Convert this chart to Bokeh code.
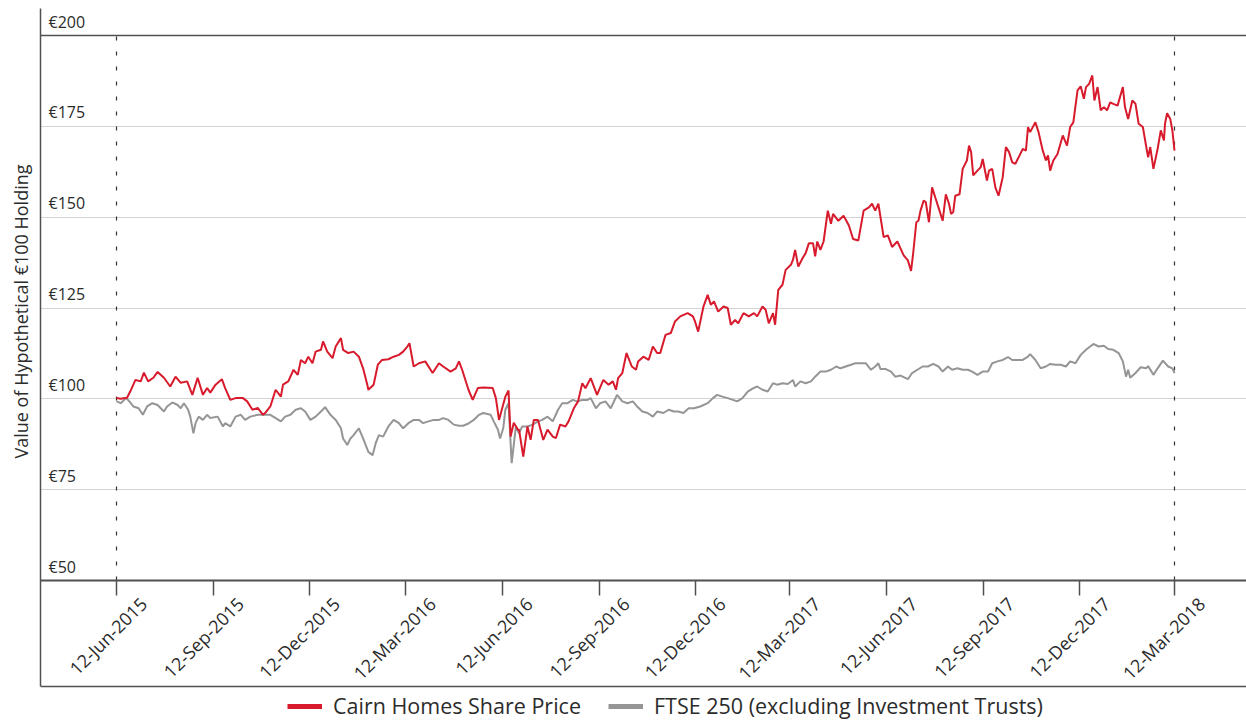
import math
from datetime import datetime, timedelta
import pandas as pd
from bokeh.plotting import figure
from bokeh.models import (Range1d, DatetimeAxis, LinearAxis, FixedTicker, DatetimeTickFormatter,
                          Span, LabelSet, ColumnDataSource, Legend, LegendItem, Grid, Title)
from bokeh.core.properties import value
from bokeh.embed import file_html
from bokeh.resources import INLINE

# ---------------- data ----------------
BASE_DATE = "2015-06-12"
series_names = ["Cairn Homes Share Price", "FTSE 250 (excluding Investment Trusts)"]

cairn_day = [0, 4, 10, 13, 18, 23, 26, 30, 35, 39,
             45, 51, 56, 61, 67, 72, 77, 82, 86, 89,
             94, 100, 103, 108, 113, 120, 124, 129, 134, 139,
             141, 146, 151, 156, 158, 163, 168, 172, 175, 179,
             182, 186, 189, 194, 196, 200, 205, 208, 213, 215,
             220, 225, 230, 234, 238, 239, 244, 248, 252, 258,
             263, 268, 272, 276, 278, 282, 287, 293, 300, 306,
             310, 317, 322, 325, 328, 334, 338, 343, 348, 357,
             360, 363, 366, 369, 372, 374, 377, 381, 382, 386,
             390, 393, 396, 400, 405, 409, 414, 417, 421, 426,
             429, 434, 438, 442, 445, 450, 456, 462, 467, 471,
             474, 476, 480, 484, 489, 493, 495, 500, 505, 509,
             513, 516, 521, 526, 530, 535, 542, 547, 549, 552,
             557, 561, 564, 567, 571, 576, 580, 583, 587, 590,
             595, 600, 605, 608, 613, 616, 619, 623, 625, 628,
             632, 635, 640, 642, 644, 647, 651, 654, 657, 661,
             663, 665, 668, 671, 675, 678, 680, 685, 690, 695,
             699, 704, 709, 714, 717, 720, 723, 728, 732, 736,
             741, 744, 747, 751, 754, 756, 759, 761, 763, 766,
             768, 771, 774, 777, 780, 784, 787, 790, 792, 794,
             796, 800, 803, 807, 809, 811, 813, 817, 820, 822,
             826, 828, 831, 834, 837, 841, 844, 847, 850, 853,
             857, 860, 863, 865, 867, 872, 875, 879, 882, 884,
             886, 889, 893, 898, 902, 905, 908, 912, 915, 918,
             920, 923, 926, 928, 931, 934, 937, 940, 943, 946,
             950, 955, 957, 960, 964, 967, 970, 974, 977, 979,
             981, 984, 988, 991, 994, 995, 997, 1000, 1002, 1004]
cairn_val = [100.2, 100.0, 100.3, 102, 105.2, 104.8, 107.2, 104.8, 105.8, 107.4,
             105.8, 103.4, 106.1, 104.4, 104.8, 101.1, 105.8, 101.1, 103, 101.7,
             103.9, 105.4, 103, 99.7, 100.2, 100.2, 99.3, 97, 97.5, 95.6,
             96.1, 97.9, 102.5, 100.6, 103.9, 104.8, 108, 106.6, 110.7, 109.8,
             111.6, 109.8, 113, 113.5, 115.8, 113, 111.2, 114.4, 116.7, 113.5,
             112.6, 113, 111.6, 108.4, 103.9, 102.5, 103.9, 109.4, 110.7, 110.9,
             111.6, 112.1, 113, 114.4, 115.3, 108.9, 109.8, 110.3, 107.1, 109.8,
             108.9, 107.5, 108.4, 110.3, 108, 102.5, 99.7, 103, 103.1, 103,
             100.2, 94.2, 97.4, 100.6, 102.3, 89.6, 93.4, 91.5, 91.5, 84.1,
             92.4, 88.7, 94.2, 94.2, 88.7, 91.5, 89.6, 89.2, 92.9, 92.4,
             93.8, 97.4, 99.3, 104.3, 102.9, 105.7, 101.1, 105.2, 103.9, 104.8,
             102.5, 105.7, 107.1, 112.6, 108.9, 108, 110.3, 111.6, 110.7, 114.4,
             112.6, 112.6, 117.6, 118.1, 121.3, 122.7, 123.6, 122.7, 121.3, 118.5,
             125.4, 128.6, 125.9, 126.8, 124, 125.4, 125, 120.4, 121.7, 120.8,
             123.6, 122.7, 123.6, 122.7, 125.4, 124.5, 120.8, 123.6, 120.4, 130,
             131.4, 135.5, 136.9, 138.3, 141, 136.4, 138.7, 140.1, 142.8, 142.8,
             139.2, 143.3, 141, 143.3, 151.8, 148.2, 150.9, 149, 150.4, 147.7,
             144, 143.6, 151.8, 152.7, 153.7, 151.8, 153.7, 144.5, 145, 141.8,
             143.3, 141.4, 139.5, 138.1, 135.2, 140, 148.6, 149, 151.8, 154.6,
             154.1, 148.6, 158.2, 155.4, 152.7, 149, 156.3, 153.7, 150.9, 151.4,
             155.9, 156.3, 163.3, 165.6, 169.7, 167.9, 161.5, 162.8, 163.7, 166,
             160.1, 162.8, 163.3, 158.2, 155.9, 161, 169.3, 167.9, 165.1, 164.7,
             167, 168.8, 168.3, 174.8, 173.4, 176.1, 173.4, 168.3, 165.6, 167,
             162.8, 165.6, 167.4, 172.5, 169.7, 174.8, 176.1, 184.9, 186, 182.6,
             185.8, 186.7, 189, 182.1, 185.8, 179.4, 180.3, 179.4, 181.6, 181.2,
             180.7, 185.8, 180.3, 177, 182.1, 181.2, 175.7, 174.8, 169.7, 166.5,
             169.3, 163.3, 168.8, 173.9, 171.1, 175.7, 178.6, 177, 173.9, 168.3]

ftse_day = [0, 4, 9, 11, 16, 21, 25, 29, 34, 39,
            45, 48, 53, 58, 61, 64, 68, 70, 73, 75,
            78, 82, 86, 89, 96, 101, 103, 108, 113, 118,
            122, 127, 134, 140, 146, 151, 156, 160, 165, 170,
            175, 179, 184, 189, 194, 198, 203, 208, 213, 215,
            219, 222, 225, 230, 234, 239, 243, 246, 249, 253,
            258, 263, 268, 272, 277, 282, 287, 291, 296, 301,
            306, 310, 315, 320, 325, 329, 334, 339, 344, 348,
            355, 358, 362, 364, 367, 369, 372, 375, 379, 382,
            385, 390, 395, 400, 404, 409, 414, 419, 423, 428,
            433, 437, 442, 447, 450, 455, 459, 464, 469, 475,
            480, 485, 490, 494, 499, 504, 509, 513, 519, 524,
            529, 533, 538, 543, 548, 554, 561, 566, 570, 575,
            580, 585, 589, 594, 599, 604, 608, 613, 618, 623,
            627, 632, 637, 642, 644, 649, 654, 659, 663, 668,
            673, 678, 683, 687, 692, 697, 701, 706, 711, 716,
            720, 723, 725, 730, 735, 739, 744, 751, 755, 760,
            765, 770, 775, 780, 784, 789, 793, 798, 803, 808,
            812, 817, 822, 827, 831, 836, 841, 846, 850, 855,
            860, 865, 867, 872, 877, 882, 886, 891, 896, 901,
            905, 910, 915, 920, 924, 927, 932, 937, 941, 946,
            951, 955, 958, 960, 962, 967, 972, 977, 979, 984,
            988, 993, 998, 1002, 1004]
ftse_val = [99.3, 98.8, 100.2, 99.7, 97.9, 97.4, 95.6, 97.9, 98.8, 98.3,
            96.5, 97.9, 99, 98.3, 97.4, 98.8, 97, 95.1, 90.5, 93.3,
            95.1, 94.2, 95.6, 94.7, 95.1, 92.4, 93.3, 92.4, 95.1, 95.6,
            94.2, 95.1, 95.6, 95.6, 95.6, 94.7, 93.8, 95.1, 95.6, 97,
            97.4, 96.5, 94.2, 95.1, 96.5, 97.7, 95.6, 94.2, 91.9, 89.1,
            87.3, 89.1, 90, 91.9, 89.1, 85.4, 84.5, 87.8, 90, 89.6,
            92.4, 94.2, 93.3, 91.9, 93.3, 94.2, 94.2, 93.3, 93.8, 94.2,
            94.2, 94.7, 94.2, 92.9, 92.6, 92.6, 93.2, 94.2, 95.6, 96.1,
            95.6, 93.8, 91.5, 89.1, 91.9, 97, 98.8, 82.3, 92.4, 90.5,
            92.4, 92.4, 92.9, 93.8, 94.2, 95.1, 93.8, 97, 98.8, 98.8,
            99.7, 99.3, 99.7, 99.7, 100.2, 97.4, 98.8, 99.3, 97.4, 101.1,
            99.3, 98.8, 99.3, 97.9, 96.5, 96.1, 95.1, 96.5, 96.1, 97,
            96.5, 96.5, 96.1, 97.4, 97.4, 97.9, 98.8, 100.2, 101.1, 100.6,
            100.2, 99.7, 99.3, 100.2, 102, 102.9, 103.4, 102.5, 102, 104.3,
            103.9, 104.3, 104.1, 105.2, 103.4, 104.8, 104.3, 104.8, 106.1, 107.5,
            107.5, 108, 108.9, 108.4, 108.9, 109.4, 109.8, 109.8, 109.8, 108,
            108.9, 109.8, 108.2, 108.2, 107.5, 106.1, 106.4, 105.4, 107.1, 108,
            108.9, 108.9, 109.6, 108.9, 107.5, 108.9, 108, 108.4, 108, 108,
            107.5, 106.6, 107.5, 107.5, 109.8, 110.3, 110.7, 111.5, 110.7, 110.7,
            110.7, 111.6, 112.3, 110.7, 108.4, 108.9, 109.6, 109.4, 109.4, 108.9,
            110.3, 109.8, 112.1, 113.5, 114.4, 115.1, 114.4, 114.6, 113.7, 113.5,
            112.6, 110.3, 106.1, 108, 105.8, 107.1, 108.7, 108.4, 109, 106.6,
            108.4, 110.5, 108.9, 108.4, 107.1]

tick_dates = ["2015-06-12", "2015-09-12", "2015-12-12", "2016-03-12",
              "2016-06-12", "2016-09-12", "2016-12-12", "2017-03-12",
              "2017-06-12", "2017-09-12", "2017-12-12", "2018-03-12"]
y_ticks = [50, 75, 100, 125, 150, 175, 200]
y_tick_labels = ["€50", "€75", "€100", "€125", "€150", "€175", "€200"]
y_title = "Value of Hypothetical €100 Holding"

# ---------------- styling / layout ----------------
FONT = "Open Sans"
RED = "#d81b2c"
GREY = "#959595"
DARK = "#505050"
TXT = "#2b2b2b"

W, H = 1246, 720
FRAME_L, FRAME_T = 40, 8                     # frame: x 40..W, y 8..H
AXIS_Y, TOP_RULE_Y, BOTTOM_RULE_Y = 580, 35, 686
px_per_unit = (AXIS_Y - TOP_RULE_Y) / (y_ticks[-1] - y_ticks[0])
y_lo = y_ticks[0] - (H - AXIS_Y) / px_per_unit
y_hi = y_ticks[-1] + (TOP_RULE_Y - FRAME_T) / px_per_unit
y_bottom_rule = y_ticks[0] - (BOTTOM_RULE_Y - AXIS_Y) / px_per_unit

base = pd.Timestamp(BASE_DATE)
cairn_x = base + pd.to_timedelta(cairn_day, unit="D")
ftse_x = base + pd.to_timedelta(ftse_day, unit="D")
ticks_ms = [pd.Timestamp(d).value / 1e6 for d in tick_dates]

x_start = datetime(2015, 3, 31, 21)
x_end = datetime(2018, 5, 19, 8)
label_shift = timedelta(days=25.6)

p = figure(width=W, height=H, output_backend="svg", toolbar_location=None,
           title=None, x_axis_type=None, y_axis_type=None,
           x_range=Range1d(x_start, x_end), y_range=Range1d(y_lo, y_hi),
           min_border_left=FRAME_L, min_border_right=0,
           min_border_top=FRAME_T, min_border_bottom=0)
p.outline_line_color = None
p.background_fill_color = "white"
p.border_fill_color = "white"
p.extra_x_ranges = {"lab": Range1d(x_start - label_shift, x_end - label_shift)}

# left rule (stops at the bottom rule)
yrule = LinearAxis(ticker=FixedTicker(ticks=[]), bounds=(y_bottom_rule, y_hi))
yrule.axis_line_color = DARK
yrule.axis_line_width = 1.5
yrule.major_tick_out = 0
yrule.major_tick_in = 0
yrule.major_label_standoff = 0
p.add_layout(yrule, "left")

# y title, vertical text left of the rule
p.add_layout(Title(text=y_title, align="left", offset=262, vertical_align="middle",
                   standoff=14, text_font=FONT, text_font_size="18px",
                   text_font_style="normal", text_color=TXT), "left")

# horizontal rules
p.add_layout(Grid(dimension=1, ticker=FixedTicker(ticks=y_ticks),
                  grid_line_color="#d3d3d3", grid_line_width=1))
p.add_layout(Span(location=y_ticks[-1], dimension="width", line_color=DARK, line_width=1.5))
p.add_layout(Span(location=y_bottom_rule, dimension="width", line_color=DARK, line_width=1.5))

fmt = DatetimeTickFormatter(days="%d-%b-%Y", months="%d-%b-%Y", years="%d-%b-%Y")

# x axis drawn at €50: rule + tick marks (minor ticks, so no labels)
ax_ticks = DatetimeAxis(ticker=FixedTicker(ticks=[], minor_ticks=ticks_ms), formatter=fmt,
                        fixed_location=y_ticks[0])
ax_ticks.axis_line_color = DARK
ax_ticks.axis_line_width = 2
ax_ticks.major_tick_out = 0
ax_ticks.major_tick_in = 0
ax_ticks.minor_tick_out = 15
ax_ticks.minor_tick_in = 0
ax_ticks.minor_tick_line_color = DARK
ax_ticks.minor_tick_line_width = 1.5
ax_ticks.major_label_standoff = 0
p.add_layout(ax_ticks, "below")

# rotated date labels
ax_labels = DatetimeAxis(x_range_name="lab", ticker=FixedTicker(ticks=ticks_ms), formatter=fmt,
                         fixed_location=y_ticks[0])
ax_labels.axis_line_color = None
ax_labels.major_tick_line_color = None
ax_labels.minor_tick_line_color = None
ax_labels.major_tick_out = 0
ax_labels.major_tick_in = 0
ax_labels.major_label_standoff = 20
ax_labels.major_label_orientation = math.pi / 4
ax_labels.major_label_text_font = FONT
ax_labels.major_label_text_font_size = "18px"
ax_labels.major_label_text_color = TXT
p.add_layout(ax_labels, "below")

# dashed start / end markers
mark_x = [pd.Timestamp(tick_dates[0]), pd.Timestamp(tick_dates[-1])]
p.segment(x0=mark_x, y0=[y_ticks[0]] * 2, x1=mark_x, y1=[y_ticks[-1]] * 2,
          line_color="#333333", line_width=1.2, line_dash="4 11")

# y tick labels sitting inside the plot above each rule
ysrc = ColumnDataSource(dict(y=y_ticks, text=y_tick_labels))
p.add_layout(LabelSet(x=8, y="y", text="text", x_units="screen", source=ysrc,
                      y_offset=8, text_align="left", text_baseline="alphabetic",
                      text_font=value(FONT), text_font_size="16px", text_color=TXT))

# series
p.line(ftse_x, ftse_val, line_color=GREY, line_width=2)
p.line(cairn_x, cairn_val, line_color=RED, line_width=2)

# legend keys: thick copies of the series, not drawn in the plot
k1 = p.line(cairn_x, cairn_val, line_color=RED, line_width=5, visible=False)
k2 = p.line(ftse_x, ftse_val, line_color=GREY, line_width=5, visible=False)
legend = Legend(items=[LegendItem(label=series_names[0], renderers=[k1]),
                       LegendItem(label=series_names[1], renderers=[k2])],
                orientation="horizontal", location=(247, 0),
                border_line_color=None, background_fill_alpha=0,
                inactive_fill_alpha=0,
                padding=0, margin=0, spacing=27, label_standoff=11,
                glyph_width=35, glyph_height=20, label_height=20,
                label_text_font=FONT, label_text_font_size="21.5px",
                label_text_color=TXT)
p.add_layout(legend)

open("out.html", "w").write(file_html(p, INLINE))
